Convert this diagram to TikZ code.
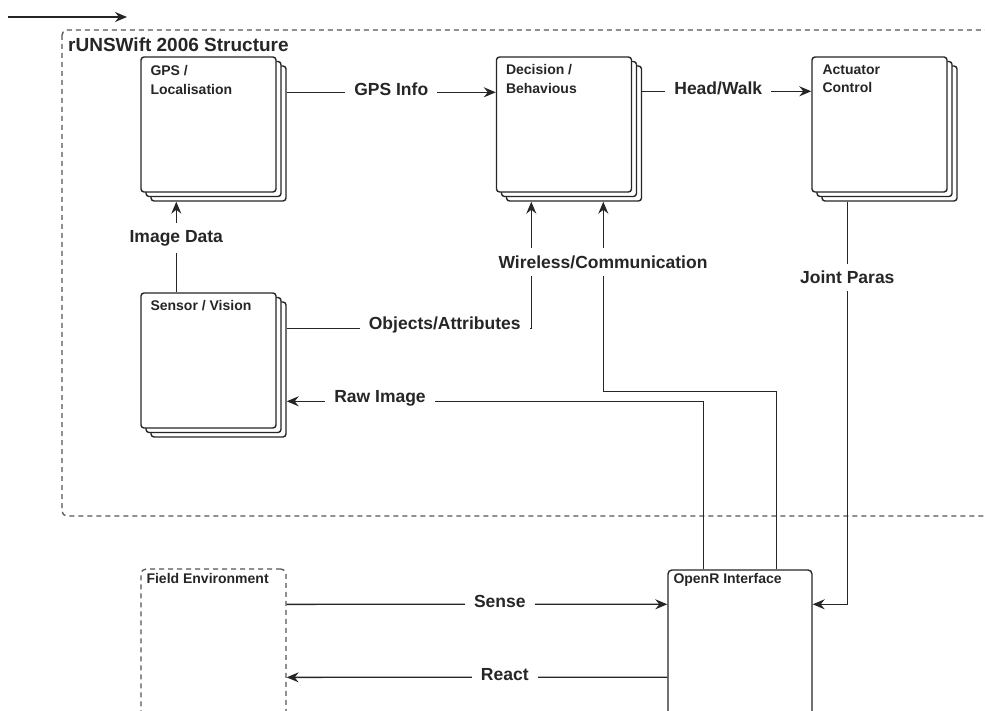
\documentclass[tikz,border=0pt]{standalone}
\usepackage{fontspec}
\setmainfont{Liberation Sans}
\usetikzlibrary{arrows.meta,shadows}
\definecolor{ink}{HTML}{262626}
\definecolor{dashink}{HTML}{555555}
\tikzset{
  line/.style={draw=ink, line width=1.3pt},
  conn/.style={line, -{Stealth[length=12pt,width=10pt,inset=4pt]}},
  module/.style={draw=ink, line width=1.4pt, fill=white, rounded corners=3pt,
    minimum width=135pt, minimum height=135pt, inner sep=0pt,
    copy shadow={shadow xshift=10pt, shadow yshift=-9pt, draw=ink, fill=white, line width=1.4pt},
    copy shadow={shadow xshift=5pt, shadow yshift=-4.5pt, draw=ink, fill=white, line width=1.4pt}},
  single/.style={draw=ink, line width=1.4pt, fill=white, rounded corners=4pt, inner sep=0pt},
  frame/.style={draw=dashink, line width=1.3pt, dash pattern=on 5pt off 4pt, rounded corners=5pt},
  boxlbl/.style={font=\bfseries\fontsize{14}{18.5}\selectfont, inner sep=0pt,
    anchor=north west, align=left, text=ink},
  lbl/.style={font=\bfseries\fontsize{17.5}{20}\selectfont, fill=white,
    inner xsep=9pt, inner ysep=7pt, text=ink, yshift=3pt},
  title/.style={font=\bfseries\fontsize{19}{22}\selectfont, inner sep=0pt,
    anchor=north west, text=ink},
}
\begin{document}
\begin{tikzpicture}[x=1pt, y=-1pt]
\useasboundingbox (0,0) rectangle (985,711);

% free-standing arrow in the top left corner
\coordinate (s0) at (8,17);
\coordinate (s1) at (127,17);
\draw[conn] (s0) -- (s1);

% dashed frame of the software structure
\draw[frame] (62,30) rectangle (1000,516);
\node[title] (ttl) at (68,38) {rUNSWift 2006 Structure};

% modules (stacked boxes)
\node[module] (gps) at (208.5,124.5) {};
\node[module] (dec) at (564,124.5) {};
\node[module] (act) at (879.5,124.5) {};
\node[module] (sen) at (208.5,360.5) {};

\node[boxlbl] (gpsT) at ([xshift=10pt,yshift=-9pt]gps.north west) {GPS /\\Localisation};
\node[boxlbl] (decT) at ([xshift=10pt,yshift=-8pt]dec.north west) {Decision /\\Behavious};
\node[boxlbl] (actT) at ([xshift=11pt,yshift=-8pt]act.north west) {Actuator\\Control};
\node[boxlbl] (senT) at ([xshift=10pt,yshift=-8pt]sen.north west) {Sensor / Vision};

% interface and environment
\node[single, minimum width=144pt, minimum height=170pt] (openr) at (740,655) {};
\node[boxlbl] (openrT) at ([xshift=6pt,yshift=-4pt]openr.north west) {OpenR Interface};
\node[frame, minimum width=145pt, minimum height=172pt, inner sep=0pt] (field) at (213.5,655) {};
\node[boxlbl] (fieldT) at ([xshift=6pt,yshift=-5pt]field.north west) {Field Environment};

% data flow between modules
\draw[conn] ([xshift=10pt,yshift=-36pt]gps.north east) -- ([yshift=-36pt]dec.north west)
  node[lbl, pos=0.5] {GPS Info};
\draw[conn] ([xshift=10pt,yshift=-35pt]dec.north east) -- ([yshift=-35pt]act.north west)
  node[lbl, pos=0.45] {Head/Walk};
\draw[conn] ([xshift=36pt]sen.north west) -- ([xshift=36pt,yshift=-9pt]gps.south west)
  node[lbl, pos=0.565] {Image Data};
\draw[conn] ([xshift=10pt,yshift=-36pt]sen.north east) -| ([xshift=35.5pt,yshift=-9pt]dec.south west)
  node[lbl, pos=0.323] {Objects/Attributes};
\draw[conn] ([xshift=-36pt]openr.north east) -- ++(0,-178) -| ([xshift=107.5pt,yshift=-9pt]dec.south west);
\node[lbl] (wl) at (603,265) {Wireless/Communication};
\draw[conn] ([xshift=36pt]openr.north west) |- ([xshift=10pt,yshift=-109pt]sen.north east)
  node[lbl, pos=0.888] {Raw Image};
\draw[conn] ([xshift=36pt,yshift=-9pt]act.south west) |- ([yshift=-35pt]openr.north east)
  node[lbl, pos=0.098] {Joint Paras};

% robot and field
\draw[conn] ([yshift=-36pt]field.north east) -- ([yshift=-35pt]openr.north west)
  node[lbl, pos=0.56] {Sense};
\draw[conn] ([yshift=-108pt]openr.north west) -- ([yshift=-109pt]field.north east)
  node[lbl, pos=0.427] {React};
\end{tikzpicture}
\end{document}
